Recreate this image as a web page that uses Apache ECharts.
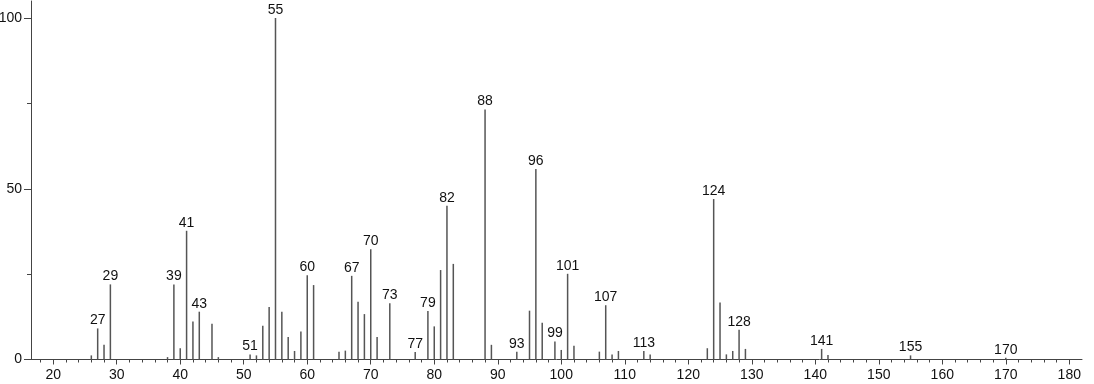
<!DOCTYPE html>
<html>
<head>
<meta charset="utf-8">
<script src="https://cdn.jsdelivr.net/npm/echarts@6/dist/echarts.min.js"></script>
<style>
html,body{margin:0;padding:0;background:#fff;}
#chart{width:1094px;height:384px;}
</style>
</head>
<body>
<div id="chart"></div>
<script>
// m/z values of the peaks
const mz = [26,27,28,29,38,39,40,41,42,43,45,46,51,52,53,54,55,56,57,58,59,60,61,65,66,67,68,69,70,71,73,77,79,80,81,82,83,88,89,93,95,96,97,99,100,101,102,106,107,108,109,113,114,123,124,125,126,127,128,129,141,142,155,170];
// relative intensities (%)
const intensity = [1.2,9.1,4.3,22.0,0.7,22.0,3.3,37.7,11.1,14.0,10.5,0.7,1.5,1.2,9.9,15.4,100,14.0,6.6,2.5,8.2,24.7,21.8,2.3,2.6,24.5,16.9,13.3,32.3,6.6,16.5,2.2,14.2,9.7,26.2,45.0,28.0,73.2,4.3,2.3,14.3,55.8,10.8,5.3,2.8,25.1,4.0,2.3,15.9,1.5,2.5,2.5,1.5,3.3,47.0,16.7,1.5,2.5,8.7,3.1,3.1,1.3,1.2,0.5];
// peaks that carry a text label
const labeledPeaks = [27,29,39,41,43,51,55,60,67,70,73,77,79,82,88,93,96,99,101,107,113,124,128,141,155,170];
// axis tick labels
const xTickLabels = [20,30,40,50,60,70,80,90,100,110,120,130,140,150,160,170,180];
const xMinorTicks = [18,20,22,24,26,28,30,32,34,36,38,40,42,44,46,48,50,52,54,56,58,60,62,64,66,68,70,72,74,76,78,80,82,84,86,88,90,92,94,96,98,100,102,104,106,108,110,112,114,116,118,120,122,124,126,128,130,132,134,136,138,140,142,144,146,148,150,152,154,156,158,160,162,164,166,168,170,172,174,176,178,180];
const yTickLabels = [0,50,100];
const yMinorTicks = [25,75];

const data = mz.map((m, i) => [m, intensity[i]]);
const FONT = '"Liberation Sans", Arial, sans-serif';
const XMIN = 16.5, XMAX = 182;
const AXIS_COLOR = '#444';

const chart = echarts.init(document.getElementById('chart'));
chart.setOption({
  animation: false,
  backgroundColor: '#fff',
  grid: {left: 31, right: 12, top: 1, bottom: 24.5, containLabel: false, outerBoundsMode: 'none'},
  xAxis: [
    {
      type: 'value', min: XMIN, max: XMAX, position: 'bottom',
      axisLine: {show: true, onZero: false, lineStyle: {color: AXIS_COLOR, width: 1}},
      axisTick: {show: true, length: 5, customValues: xTickLabels, lineStyle: {color: AXIS_COLOR}},
      axisLabel: {show: true, customValues: xTickLabels, fontSize: 14, color: '#111', fontFamily: FONT, margin: 9},
      splitLine: {show: false}
    },
    {
      type: 'value', min: XMIN, max: XMAX, position: 'bottom',
      axisLine: {show: false, onZero: false},
      axisTick: {show: true, length: 3, customValues: xMinorTicks, lineStyle: {color: AXIS_COLOR}},
      axisLabel: {show: false},
      splitLine: {show: false}
    }
  ],
  yAxis: [
    {
      type: 'value', min: 0, max: 105, position: 'left',
      axisLine: {show: true, onZero: false, lineStyle: {color: AXIS_COLOR, width: 1}},
      axisTick: {show: true, length: 7, customValues: yTickLabels, lineStyle: {color: AXIS_COLOR}},
      axisLabel: {show: true, customValues: yTickLabels, fontSize: 14, color: '#111', fontFamily: FONT, margin: 9},
      splitLine: {show: false}
    },
    {
      type: 'value', min: 0, max: 105, position: 'left',
      axisLine: {show: false, onZero: false},
      axisTick: {show: true, length: 4, customValues: yMinorTicks, lineStyle: {color: AXIS_COLOR}},
      axisLabel: {show: false},
      splitLine: {show: false}
    }
  ],
  series: [{
    type: 'bar',
    xAxisIndex: 0,
    yAxisIndex: 0,
    data: data,
    barWidth: 1.5,
    itemStyle: {color: '#555'},
    label: {
      show: true,
      position: 'top',
      distance: 1,
      fontSize: 14,
      color: '#111',
      fontFamily: FONT,
      formatter: p => labeledPeaks.includes(p.value[0]) ? String(p.value[0]) : ''
    }
  }]
});
</script>
</body>
</html>
